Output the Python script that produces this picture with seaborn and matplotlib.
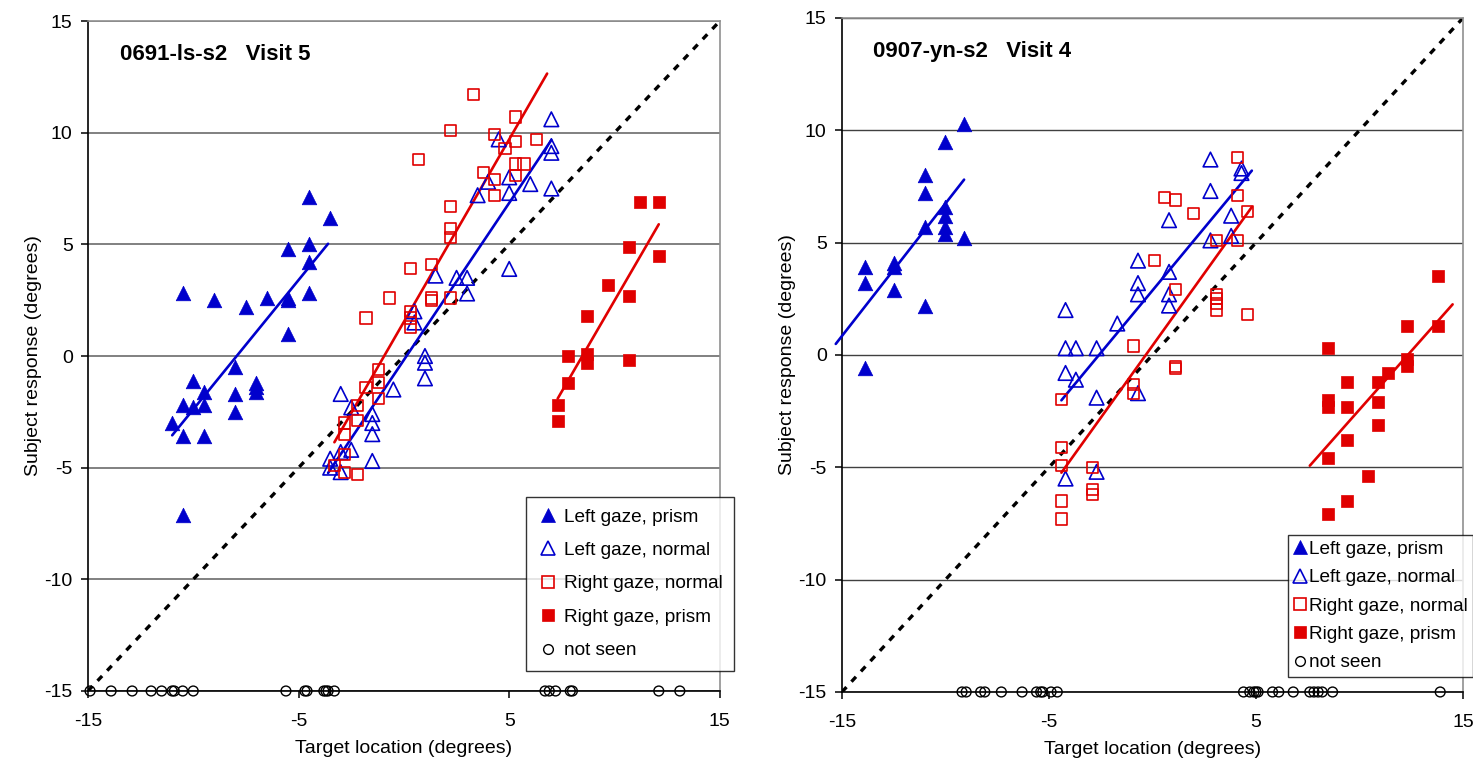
import numpy as np
import matplotlib
matplotlib.use("Agg")
import matplotlib.pyplot as plt
from matplotlib.lines import Line2D
import seaborn as sns

# ---- panel 1: 0691-ls-s2 Visit 5 ----
a_lp_x = [-11.0, -10.5, -10.5, -10.5, -10.5, -10.0, -10.0, -9.5, -9.5, -9.5, -9.0, -8.0, -8.0, -8.0,
          -7.5, -7.0, -7.0, -7.0, -6.5, -5.5, -5.5, -5.5, -5.5, -4.5, -4.5, -4.5, -4.5, -3.5]
a_lp_y = [-3.0, 2.8, -3.6, -2.2, -7.1, -1.1, -2.3, -1.6, -2.2, -3.6, 2.5, -0.5, -1.7, -2.5,
          2.2, -1.2, -1.4, -1.6, 2.6, 2.6, 2.5, 4.8, 1.0, 7.1, 5.0, 4.2, 2.8, 6.2]

a_ln_x = [7.0, 4.5, 7.0, 7.0, 5.0, 4.0, 6.0, 5.0, 3.5, 7.0, 5.0, 1.5, 2.5, 3.0, 3.0, 0.5,
          0.5, 1.0, 1.0, 1.0, -0.5, -3.0, -2.5, -1.5, -1.5, -1.5, -2.5, -3.0, -3.5, -1.5, -3.5, -3.0]
a_ln_y = [10.6, 9.7, 9.4, 9.1, 8.0, 7.8, 7.7, 7.3, 7.2, 7.5, 3.9, 3.6, 3.5, 3.5, 2.8, 2.0,
          1.5, 0.0, -0.3, -1.0, -1.5, -1.7, -2.3, -2.6, -3.0, -3.5, -4.2, -4.3, -4.6, -4.7, -5.0, -5.2]

a_rn_x = [3.3, 5.3, 2.2, 4.3, 4.8, 5.3, 6.3, 0.7, 5.3, 5.7, 5.3, 3.8, 4.3, 4.3, 2.2, 2.2, 2.2,
          0.3, 1.3, -0.7, 1.3, 1.3, 2.2, -1.8, 0.3, 0.3, 0.3, -1.2, -1.8, -1.2, -1.2, -2.2,
          -2.8, -2.2, -2.8, -2.8, -3.3, -2.8, -2.2]
a_rn_y = [11.7, 10.7, 10.1, 9.9, 9.3, 9.6, 9.7, 8.8, 8.6, 8.6, 8.1, 8.2, 7.9, 7.2, 6.7, 5.7, 5.3,
          3.9, 4.1, 2.6, 2.6, 2.5, 2.6, 1.7, 2.0, 1.7, 1.3, -0.6, -1.4, -1.2, -1.9, -2.2,
          -3.0, -2.9, -3.5, -4.4, -4.9, -5.2, -5.3]

a_rp_x = [11.2, 12.1, 10.7, 12.1, 9.7, 10.7, 8.7, 7.8, 8.7, 8.7, 10.7, 7.8, 7.3, 7.3]
a_rp_y = [6.9, 6.9, 4.9, 4.5, 3.2, 2.7, 1.8, 0.0, 0.1, -0.3, -0.2, -1.2, -2.2, -2.9]

a_ns_x = [-14.9, -13.9, -12.9, -12.0, -11.5, -11.0, -10.9, -10.5, -10.0, -5.6, -4.7, -4.6,
          -3.8, -3.7, -3.6, -3.3, 6.7, 6.9, 7.2, 7.9, 8.0, 12.1, 13.1]

# x-range covered by each trend line (lp, ln, rn, rp)
a_fit_range = [(-11.0, -3.6), (-3.6, 7.0), (-3.3, 6.8), (7.3, 12.1)]

# ---- panel 2: 0907-yn-s2 Visit 4 ----
b_lp_x = [-9.1, -10.0, -11.0, -11.0, -10.0, -10.0, -11.0, -10.0, -10.0, -9.1, -13.9, -12.5,
          -12.5, -13.9, -12.5, -11.0, -13.9]
b_lp_y = [10.3, 9.5, 8.0, 7.2, 6.6, 6.2, 5.7, 5.7, 5.4, 5.2, 3.9, 4.1, 3.9, 3.2, 2.9, 2.2, -0.6]

b_ln_x = [2.8, 4.3, 4.3, 2.8, 3.8, 0.8, 2.8, 3.8, -0.7, 0.8, -0.7, -0.7, 0.8, 0.8, -4.2, -1.7,
          -4.2, -3.7, -2.7, -4.2, -3.7, -2.7, -0.7, -2.7, -4.2]
b_ln_y = [8.7, 8.3, 8.1, 7.3, 6.2, 6.0, 5.1, 5.3, 4.2, 3.7, 3.2, 2.7, 2.7, 2.2, 2.0, 1.4,
          0.3, 0.3, 0.3, -0.8, -1.1, -1.9, -1.7, -5.2, -5.5]

b_rn_x = [4.1, 4.1, 0.6, 1.1, 4.6, 2.0, 3.1, 4.1, 0.1, 1.1, 3.1, 3.1, 3.1, 3.1, 4.6, -0.9,
          1.1, 1.1, -0.9, -0.9, -4.4, -4.4, -4.4, -2.9, -2.9, -2.9, -4.4, -4.4]
b_rn_y = [8.8, 7.1, 7.0, 6.9, 6.4, 6.3, 5.1, 5.1, 4.2, 2.9, 2.7, 2.5, 2.3, 2.0, 1.8, 0.4,
          -0.5, -0.6, -1.3, -1.7, -2.0, -4.1, -4.9, -5.0, -6.0, -6.2, -6.5, -7.3]

b_rp_x = [13.8, 12.3, 13.8, 8.5, 12.3, 12.3, 11.4, 9.4, 10.9, 8.5, 8.5, 9.4, 10.9, 10.9, 9.4,
          8.5, 10.4, 9.4, 8.5]
b_rp_y = [3.5, 1.3, 1.3, 0.3, -0.2, -0.5, -0.8, -1.2, -1.2, -2.0, -2.3, -2.3, -2.1, -3.1, -3.8,
          -4.6, -5.4, -6.5, -7.1]

b_ns_x = [-9.2, -9.0, -8.3, -8.1, -7.3, -6.3, -5.6, -5.4, -5.3, -4.9, -4.6, 4.4, 4.7, 4.9, 5.0,
          5.1, 5.8, 6.1, 6.8, 7.6, 7.8, 8.0, 8.2, 8.7, 13.9]

b_fit_range = [(-15.3, -9.1), (-4.4, 4.8), (-4.4, 4.8), (7.6, 14.5)]

labels = ["Left gaze, prism", "Left gaze, normal", "Right gaze, normal", "Right gaze, prism", "not seen"]

BLUE = "#0000cc"
RED = "#e00000"

sns.set_style("white")
plt.rcParams['font.family'] = ['Liberation Sans', 'DejaVu Sans']
plt.rcParams['axes.unicode_minus'] = False
plt.rcParams['text.color'] = 'black'
plt.rcParams['axes.labelcolor'] = 'black'


def draw_panel(ax, title, series, ns_x, fit_range, grid_color, grid_lw):
    # series: list of (x, y, marker, color, filled, size)
    for (x, y, marker, color, filled, size), (lo, hi) in zip(series, fit_range):
        sns.scatterplot(x=x, y=y, marker=marker, s=size, ax=ax, zorder=4,
                        facecolor=color if filled else "none", edgecolor=color,
                        linewidth=0.5 if filled else 1.2, clip_on=False)
        k, b = np.polyfit(x, y, 1)
        xx = np.array([lo, hi])
        ax.plot(xx, k * xx + b, color=color, lw=1.9, zorder=3, clip_on=False)

    sns.scatterplot(x=ns_x, y=np.full(len(ns_x), -15.0), marker="o", s=50, ax=ax,
                    facecolor="none", edgecolor="black", linewidth=1.0, zorder=5, clip_on=False)

    ax.axline((0, 0), slope=1, color="black", lw=2.4, ls=(0, (2, 2.2)), zorder=2)

    ax.set_xlim(-15, 15)
    ax.set_ylim(-15, 15)
    ax.set_xticks([-15, -5, 5, 15])
    ax.set_yticks(range(-15, 16, 5))
    ax.yaxis.grid(True, color=grid_color, lw=grid_lw)
    ax.xaxis.grid(False)
    ax.set_axisbelow(True)
    for side in ["left", "bottom"]:
        ax.spines[side].set_color("black")
        ax.spines[side].set_linewidth(1.2)
    for side in ["top", "right"]:
        ax.spines[side].set_color("#909090")
        ax.spines[side].set_linewidth(1.2)
    ax.tick_params(bottom=True, left=True, direction="out", length=5, width=1.1,
                   colors="black", labelsize=14)
    ax.tick_params(axis="x", pad=11)
    ax.tick_params(axis="y", pad=6)
    ax.set_xlabel("Target location (degrees)", fontsize=14, labelpad=7)
    ax.set_ylabel("Subject response (degrees)", fontsize=14, labelpad=2)
    ax.text(0.05, 0.95, title, transform=ax.transAxes, fontsize=16, fontweight="bold",
            va="center", ha="left")


def legend_handles():
    return [
        Line2D([], [], ls="none", marker="^", ms=10.5, mfc=BLUE, mec=BLUE, mew=0.5),
        Line2D([], [], ls="none", marker="^", ms=10.5, mfc="none", mec=BLUE, mew=1.2),
        Line2D([], [], ls="none", marker="s", ms=8, mfc="none", mec=RED, mew=1.2),
        Line2D([], [], ls="none", marker="s", ms=8, mfc=RED, mec=RED, mew=0.5),
        Line2D([], [], ls="none", marker="o", ms=7, mfc="none", mec="black", mew=1.0),
    ]


fig = plt.figure(figsize=(14.73, 7.59), dpi=100)
ax1 = fig.add_axes([0.0597, 0.0896, 0.429, 0.8827])
ax2 = fig.add_axes([0.5716, 0.0883, 0.4216, 0.888])

draw_panel(ax1, "0691-ls-s2   Visit 5",
           [(a_lp_x, a_lp_y, "^", BLUE, True, 110),
            (a_ln_x, a_ln_y, "^", BLUE, False, 110),
            (a_rn_x, a_rn_y, "s", RED, False, 64),
            (a_rp_x, a_rp_y, "s", RED, True, 64)],
           a_ns_x, a_fit_range, "#808080", 1.4)

draw_panel(ax2, "0907-yn-s2   Visit 4",
           [(b_lp_x, b_lp_y, "^", BLUE, True, 110),
            (b_ln_x, b_ln_y, "^", BLUE, False, 110),
            (b_rn_x, b_rn_y, "s", RED, False, 64),
            (b_rp_x, b_rp_y, "s", RED, True, 64)],
           b_ns_x, b_fit_range, "#404040", 1.0)

leg1 = ax1.legend(legend_handles(), labels, loc="lower left", bbox_to_anchor=(0.693, 0.03),
                  borderaxespad=0, fontsize=13.7, frameon=True, fancybox=False,
                  edgecolor="black", borderpad=0.6, labelspacing=0.85, handlelength=1.1,
                  handletextpad=0.3)
leg1.get_frame().set_linewidth(1.0)
leg1.set_zorder(10)

leg2 = ax2.legend(legend_handles(), labels, loc="lower left", bbox_to_anchor=(0.718, 0.022),
                  borderaxespad=0, fontsize=13.7, frameon=True, fancybox=False,
                  edgecolor="black", borderpad=0.3, labelspacing=0.58, handlelength=0.7,
                  handletextpad=0.1)
leg2.get_frame().set_linewidth(1.0)
leg2.set_zorder(10)

fig.savefig("out.png", dpi=100)
